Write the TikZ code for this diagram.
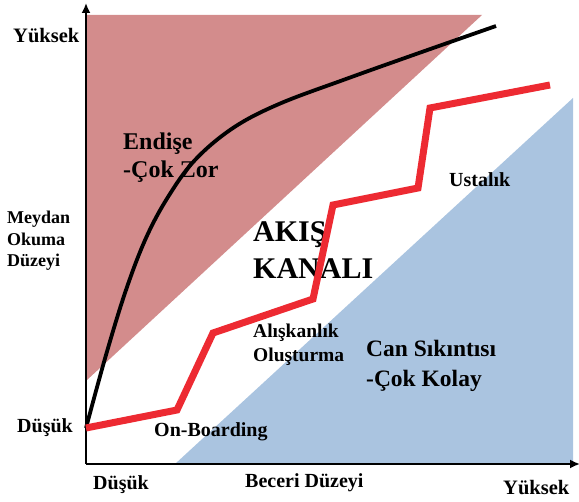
\documentclass[tikz,border=0pt]{standalone}
\usepackage{fontspec}
\setmainfont{Liberation Serif}
\usetikzlibrary{arrows.meta}
\definecolor{worryfill}{RGB}{211,140,140}
\definecolor{boredfill}{RGB}{170,196,224}
\definecolor{flowred}{RGB}{237,42,50}
\begin{document}
\begin{tikzpicture}[x=1pt,y=-1pt,
  lbl/.style={anchor=base west, inner sep=0pt, font=\bfseries\fontsize{#1}{#1}\selectfont},
  axis/.style={line width=1.8pt, -{Latex[length=10pt,width=9pt]}},
  skill/.style={line width=7pt, draw=flowred},
  challenge/.style={line width=3.8pt, black}]
\useasboundingbox (0,0) rectangle (579,502);

% zones
\fill[worryfill] (87,15) -- (482,15) -- (87,380) -- cycle;
\fill[boredfill] (175,464) -- (573,464) -- (573,98) -- cycle;

% axes
\coordinate (o) at (86,464);
\coordinate (ytop) at (86,3);
\coordinate (xend) at (580,464);
\draw[axis] (o) -- (ytop);
\draw[axis] (o) -- (xend);

% axis labels
\node[lbl=20.5] (yhigh) at (13,43) {Yüksek};
\node[lbl=18] (ym1) at (7,224) {Meydan};
\node[lbl=18] (ym2) at (7,245.5) {Okuma};
\node[lbl=18] (ym3) at (7,267) {Düzeyi};
\node[lbl=20] (ylow) at (17,433) {Düşük};
\node[lbl=20] (xlow) at (93,490) {Düşük};
\node[lbl=20] (xmid) at (245,488) {Beceri Düzeyi};
\node[lbl=20.5] (xhigh) at (503,495) {Yüksek};

% zone labels
\node[lbl=24] (w1) at (123,150) {Endişe};
\node[lbl=24] (w2) at (123,178) {-Çok Zor};
\node[lbl=30] (f1) at (253,242) {AKIŞ};
\node[lbl=30] (f2) at (253,279) {KANALI};
\node[lbl=19.5] (h1) at (253,338) {Alışkanlık};
\node[lbl=19.5] (h2) at (253,362) {Oluşturma};
\node[lbl=23.5] (b1) at (366,357) {Can Sıkıntısı};
\node[lbl=23.5] (b2) at (366,387) {-Çok Kolay};
\node[lbl=20] (m1) at (449,187) {Ustalık};
\node[lbl=20] (ob) at (154,437) {On-Boarding};

% challenge curve
\draw[challenge] plot[smooth, tension=0.6] coordinates {
  (86,428) (106,355) (126,290) (146,238) (168,197) (195,160)
  (233,128) (279,104) (346,79) (419,53) (496,26)};

% skill progression
\draw[skill] (86,428) -- (177,410) -- (213,333) -- (313,299)
  -- (333,205) -- (418,188) -- (430,108) -- (550,85);
\end{tikzpicture}
\end{document}
